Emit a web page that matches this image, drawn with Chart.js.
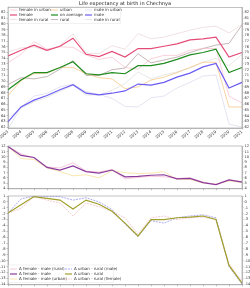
<!DOCTYPE html>
<html>
<head>
<meta charset="utf-8">
<script src="https://cdn.jsdelivr.net/npm/chart.js@4.4.0/dist/chart.umd.min.js"></script>
<style>
  html, body { margin: 0; padding: 0; background: #fff; }
  #wrap { position: relative; width: 250px; height: 288px; }
  canvas { position: absolute; left: 0; }
</style>
</head>
<body>
<div id="wrap">
  <canvas id="topChart" width="250" height="146" style="top:0;width:250px;height:146px"></canvas>
  <canvas id="midChart" width="250" height="52" style="top:140px;width:250px;height:52px"></canvas>
  <canvas id="botChart" width="250" height="96" style="top:192px;width:250px;height:96px"></canvas>
</div>
<script>
const years = ["2003","2004","2005","2006","2007","2008","2009","2010","2011","2012",
               "2013","2014","2015","2016","2017","2018","2019","2020","2021"];

// life expectancy, years
const femaleUrban = [73.2, 74.7, 76.9, 75.6, 76.0, 75.9, 74.6, 73.8, 74.2, 72.4, 72.1, 73.9, 74.5, 74.5, 75.4, 75.7, 75.7, 67.4, 66.2];
const female      = [74.4, 75.4, 76.3, 75.4, 76.1, 77.5, 74.7, 74.3, 75.2, 74.2, 75.7, 75.7, 76.1, 76.5, 77.2, 77.4, 77.7, 74.2, 75.0];
const femaleRural = [75.1, 75.8, 76.0, 75.3, 76.2, 78.3, 74.9, 74.8, 76.2, 75.6, 78.3, 77.4, 77.7, 78.3, 78.9, 79.4, 79.6, 78.4, 79.9];
const urban       = [67.5, 70.1, 71.3, 71.4, 72.4, 72.4, 71.3, 70.6, 70.4, 68.7, 69.0, 70.2, 70.7, 71.5, 72.4, 73.3, 73.3, 65.5, 65.5];
const average     = [68.5, 70.2, 71.5, 71.5, 72.4, 73.4, 71.3, 71.1, 71.5, 71.3, 72.7, 72.7, 73.1, 73.8, 74.6, 75.0, 75.6, 71.5, 72.4];
const rural       = [69.4, 70.6, 70.4, 70.8, 72.1, 73.6, 71.0, 71.0, 72.0, 72.3, 74.8, 73.2, 73.7, 74.2, 75.0, 75.7, 76.3, 76.6, 79.8];
const maleUrban   = [61.7, 65.4, 67.4, 67.9, 69.0, 69.5, 68.2, 67.7, 67.0, 65.6, 65.5, 67.1, 67.4, 68.8, 69.8, 70.9, 71.1, 62.5, 62.0];
const male        = [62.9, 65.5, 66.7, 67.5, 68.5, 69.4, 67.9, 67.6, 67.9, 68.3, 69.5, 69.3, 69.8, 70.7, 71.4, 72.5, 73.1, 68.8, 69.8];
const maleRural   = [63.6, 65.3, 66.4, 67.2, 68.2, 69.3, 67.6, 67.6, 68.4, 69.6, 71.6, 70.4, 71.1, 71.6, 72.3, 73.3, 74.0, 72.7, 74.7];

// female - male gap
const gapRural = [12.0, 10.6, 9.8, 8.1, 7.9, 8.9, 7.3, 7.1, 7.6, 5.8, 6.1, 6.3, 6.2, 5.9, 6.0, 5.2, 4.7, 5.6, 5.3];
const gapAll   = [12.0, 10.3, 9.9, 8.0, 7.5, 8.3, 7.2, 6.9, 7.5, 6.2, 6.3, 6.5, 6.6, 5.8, 5.9, 5.1, 4.7, 5.6, 5.2];
const gapUrban = [12.0, 9.7, 9.5, 7.9, 7.2, 6.4, 6.6, 6.0, 7.4, 7.0, 6.8, 6.9, 7.2, 5.7, 5.7, 5.0, 4.8, 5.4, 5.1];

// urban - rural gap
const urDiffMale   = [-1.9, 0.5, 1.0, 0.9, 0.9, 0.3, 0.7, 0.0, -1.3, -3.8, -5.9, -3.2, -3.6, -2.7, -2.4, -2.2, -2.7, -11.0, -14.0];
const urDiffAll    = [-1.9, -0.5, 0.9, 0.6, 0.3, -1.2, 0.3, -0.4, -1.6, -3.6, -5.8, -3.0, -3.0, -2.7, -2.6, -2.4, -3.0, -10.8, -13.8];
const urDiffFemale = [-1.9, -1.1, 0.9, 0.3, -0.2, -2.4, -0.2, -0.8, -1.6, -2.7, -5.5, -2.7, -2.4, -3.0, -2.7, -2.6, -3.0, -10.5, -13.5];

const FONT = "DejaVu Sans";
Chart.defaults.font.family = FONT;
Chart.defaults.font.size = 4;
Chart.defaults.color = "#333";

function line(label, data, color, width, dash, order) {
  return {
    label, data, borderColor: color, backgroundColor: color,
    borderWidth: width, borderDash: dash || [], pointRadius: 0,
    tension: 0, fill: false, order: order
  };
}

function yAxis(pos, min, max, step) {
  return {
    type: "linear", position: pos, min, max,
    ticks: { stepSize: step, includeBounds: false, autoSkip: false, padding: 1, font: { size: 3.6 } },
    grid: { drawOnChartArea: false, tickLength: 1.5, color: "#888", lineWidth: 0.5 },
    border: { color: "#999", width: 0.6 },
    afterFit: s => { s.width = 8; }
  };
}

function xAxis(showLabels, h) {
  return {
    type: "category", offset: false,
    ticks: { display: showLabels, autoSkip: false, minRotation: 40, maxRotation: 40, padding: 0, font: { size: 4 } },
    grid: { drawOnChartArea: false, tickLength: 1.5, color: "#888", lineWidth: 0.5 },
    border: { color: "#999", width: 0.6 },
    afterFit: s => { s.height = h; }
  };
}

const frame = {
  id: "frame",
  afterDraw(chart) {
    const { ctx, chartArea: a } = chart;
    ctx.save();
    ctx.strokeStyle = "#999";
    ctx.lineWidth = 0.6;
    ctx.strokeRect(a.left, a.top, a.right - a.left, a.bottom - a.top);
    ctx.restore();
  }
};

const gridLegend = {
  id: "gridLegend",
  afterDatasetsDraw(chart, args, o) {
    if (!o || !o.order) return;
    const ctx = chart.ctx;
    ctx.save();
    ctx.fillStyle = "rgba(255,255,255,0.8)";
    ctx.strokeStyle = "#e4e4e4";
    ctx.lineWidth = 0.5;
    ctx.fillRect(o.x, o.y, o.w, o.h);
    ctx.strokeRect(o.x, o.y, o.w, o.h);
    ctx.font = "4px " + FONT;
    ctx.textBaseline = "middle";
    o.order.forEach((di, i) => {
      const ds = chart.data.datasets[di];
      const col = Math.floor(i / 3), row = i % 3;
      const lx = o.colX[col], ly = o.rowY[row];
      ctx.strokeStyle = ds.borderColor;
      ctx.lineWidth = ds.borderWidth;
      ctx.setLineDash(ds.borderDash);
      ctx.beginPath();
      ctx.moveTo(lx, ly);
      ctx.lineTo(lx + 7, ly);
      ctx.stroke();
      ctx.setLineDash([]);
      ctx.fillStyle = "#333";
      ctx.fillText(ds.label, lx + 9, ly + 0.3);
    });
    ctx.restore();
  }
};

function baseOptions(yMin, yMax, step, showX, xH, padTop, legendOpts) {
  return {
    responsive: false, animation: false, devicePixelRatio: 1,
    layout: { padding: { top: padTop, left: 0, right: 0, bottom: 0 } },
    plugins: {
      legend: { display: false }, tooltip: { enabled: false },
      gridLegend: legendOpts || {}
    },
    scales: {
      x: xAxis(showX, xH),
      y: yAxis("left", yMin, yMax, step),
      yR: yAxis("right", yMin, yMax, step)
    }
  };
}

// top panel
const topOpts = baseOptions(61.83, 82.86, 1, true, 18, 0, {
  x: 8.5, y: 6.5, w: 112, h: 17,
  colX: [10, 51, 85], rowY: [10, 15, 19.5],
  order: [0, 1, 2, 3, 4, 5, 6, 7, 8]
});
topOpts.plugins.title = {
  display: true, text: "Life expectancy at birth in Chechnya",
  font: { size: 5, weight: "normal" }, color: "#222", padding: { top: 1, bottom: 0.5 }
};
new Chart(document.getElementById("topChart"), {
  type: "line",
  data: {
    labels: years,
    datasets: [
      line("female in urban", femaleUrban, "#f5b3c3", 0.6, null, 1),
      line("female", female, "#e44c78", 1.2, null, 0),
      line("female in rural", femaleRural, "#e6cdd2", 0.6, null, 1),
      line("urban", urban, "#f5c27a", 0.7, null, 1),
      line("on average", average, "#1e8c1e", 1.2, null, 0),
      line("rural", rural, "#ad9a9a", 0.7, null, 1),
      line("male in urban", maleUrban, "#d2d2ea", 0.6, null, 1),
      line("male", male, "#6a5cf2", 1.2, null, 0),
      line("male in rural", maleRural, "#d8d8d8", 0.6, null, 1)
    ]
  },
  options: topOpts,
  plugins: [frame, gridLegend]
});

// middle panel
new Chart(document.getElementById("midChart"), {
  type: "line",
  data: {
    labels: years,
    datasets: [
      line("Δ female - male (rural)", gapRural, "#f2a6c6", 0.6, null, 1),
      line("Δ female - male", gapAll, "#8a3a9c", 1.2, null, 0),
      line("Δ female - male (urban)", gapUrban, "#f4d67a", 0.6, null, 1)
    ]
  },
  options: baseOptions(3.9, 12.1, 1, false, 2, 6),
  plugins: [frame]
});

// bottom panel
new Chart(document.getElementById("botChart"), {
  type: "line",
  data: {
    labels: years,
    datasets: [
      line("Δ female - male (rural)", [], "#f2a6c6", 0.6, null, 1),
      line("Δ female - male", [], "#8a3a9c", 1.2, null, 1),
      line("Δ female - male (urban)", [], "#f4d67a", 0.6, null, 1),
      line("Δ urban - rural (male)", urDiffMale, "#7474f0", 0.6, [2, 1], 1),
      line("Δ urban - rural", urDiffAll, "#a0a02a", 1.2, null, 0),
      line("Δ urban - rural (female)", urDiffFemale, "#f0aab4", 0.6, [2, 1], 1)
    ]
  },
  options: baseOptions(-14.1, 1.0, 1, false, 2, 4, {
    x: 8.5, y: 73, w: 105, h: 17.5,
    colX: [10, 65], rowY: [77, 82, 87],
    order: [0, 1, 2, 3, 4, 5]
  }),
  plugins: [frame, gridLegend]
});
</script>
</body>
</html>
